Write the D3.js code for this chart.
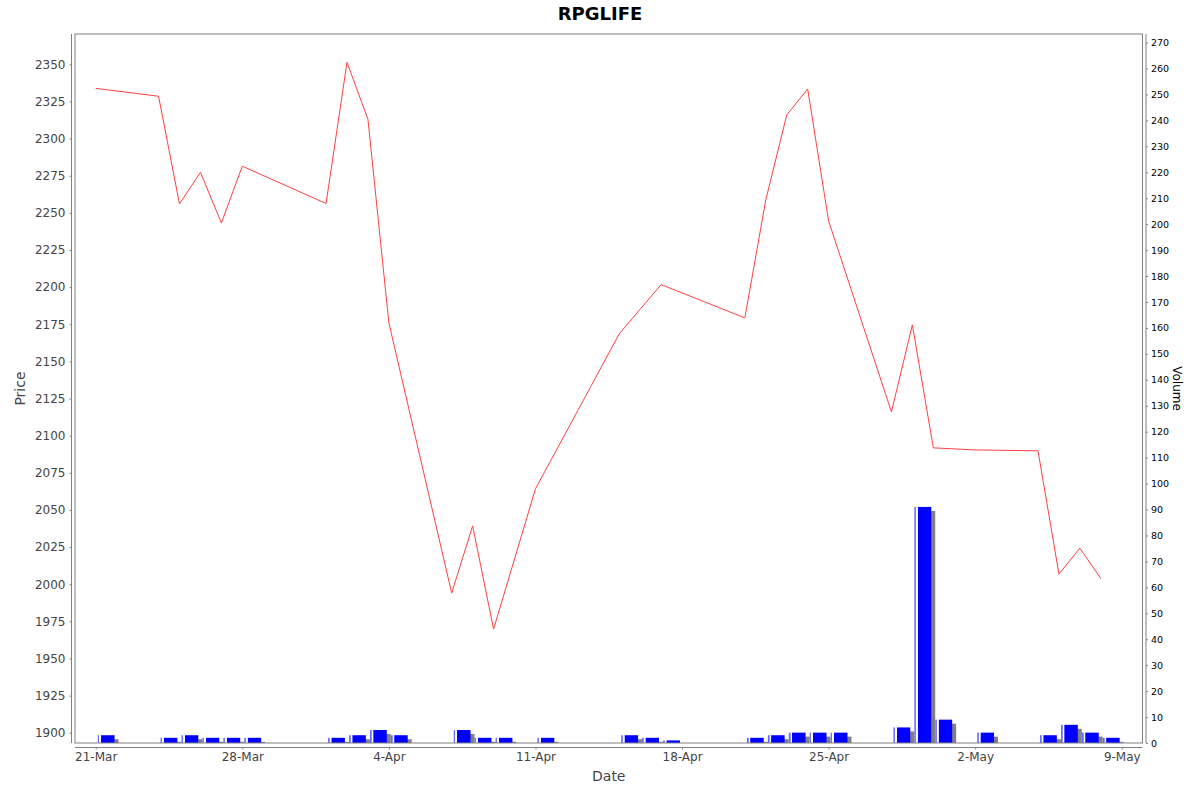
<!DOCTYPE html>
<html>
<head>
<meta charset="utf-8">
<script src="https://cdn.jsdelivr.net/npm/d3@7"></script>
<style>
  body { margin: 0; background: #fff; }
  text { font-family: "DejaVu Sans", sans-serif; }
</style>
</head>
<body>
<div id="container"></div>
<script>
const dates = ["2021-03-21","2021-03-24","2021-03-25","2021-03-26","2021-03-27","2021-03-28",
  "2021-04-01","2021-04-02","2021-04-03","2021-04-04","2021-04-07","2021-04-08","2021-04-09",
  "2021-04-11","2021-04-15","2021-04-16","2021-04-17","2021-04-21","2021-04-22","2021-04-23",
  "2021-04-24","2021-04-25","2021-04-28","2021-04-29","2021-04-30","2021-05-02","2021-05-05",
  "2021-05-06","2021-05-07","2021-05-08"];
const prices = [2333.8, 2328.5, 2256.0, 2277.3, 2243.2, 2281.4,
  2256.3, 2351.3, 2313.0, 2175.9, 1994.0, 2039.3, 1969.8,
  2064.2, 2168.5, 2185.1, 2201.7, 2179.3, 2258.7, 2315.9,
  2333.4, 2244.5, 2116.0, 2174.6, 2091.8, 2090.4, 2089.8,
  2006.8, 2024.3, 2003.8];
const volumes = [3, 2, 3, 2, 2, 2,
  2, 3, 5, 3, 5, 2, 2,
  2, 3, 2, 1, 2, 3, 4,
  4, 4, 6, 91, 9, 4, 3,
  7, 4, 2];
const dateTicks = ["2021-03-21","2021-03-28","2021-04-04","2021-04-11","2021-04-18","2021-04-25","2021-05-02","2021-05-09"];
const priceTicks = d3.range(1900, 2351, 25);
const volumeTicks = d3.range(0, 271, 10);

const width = 1200;
const height = 792;
const plotL = 75, plotR = 1142.5, plotT = 34, plotB = 743;
const DAY = 86400000;
const parse = d3.utcParse("%Y-%m-%d");

const rows = dates.map((d, i) => ({date: parse(d), price: prices[i], volume: volumes[i]}));

const svg = d3.select("#container").append("svg")
  .attr("width", width)
  .attr("height", height);
svg.append("rect").attr("width", width).attr("height", height).attr("fill", "#fff");

const x = d3.scaleUtc()
  .domain([+parse("2021-03-21") - 0.99 * DAY, +parse("2021-05-09") + 0.99 * DAY])
  .range([plotL, plotR]);
const yPrice = d3.scaleLinear().domain([1893.1, 2370.4]).range([plotB, plotT]);
const yVol = d3.scaleLinear().domain([0, 273.3]).range([plotB, plotT]);

// bar gradient, roughly like the java bar painter
const grad = svg.append("defs").append("linearGradient")
  .attr("id", "barGrad")
  .attr("x1", 0).attr("x2", 1).attr("y1", 0).attr("y2", 0);
[[0, "#4a4aff"], [0.1, "#9a9aff"], [0.1, "#ffffff"], [0.18, "#ffffff"], [0.22, "#0000ff"], [1, "#0000ff"]]
  .forEach(s => grad.append("stop").attr("offset", s[0]).attr("stop-color", s[1]));

// volume bars with shadow
const bars = svg.append("g").selectAll("g").data(rows).enter().append("g");
bars.append("rect")
  .attr("x", d => x(+d.date + 0.1 * DAY) + 4)
  .attr("y", d => Math.min(yVol(d.volume) + 4, plotB))
  .attr("width", d => x(+d.date + 0.9 * DAY) - x(+d.date + 0.1 * DAY))
  .attr("height", d => Math.max(plotB - yVol(d.volume) - 4, 0))
  .attr("fill", "#808080");
bars.append("rect")
  .attr("x", d => x(+d.date + 0.1 * DAY))
  .attr("y", d => yVol(d.volume))
  .attr("width", d => x(+d.date + 0.9 * DAY) - x(+d.date + 0.1 * DAY))
  .attr("height", d => plotB - yVol(d.volume))
  .attr("fill", "url(#barGrad)");

// price line
svg.append("path")
  .datum(rows)
  .attr("fill", "none")
  .attr("stroke", "#ff4040")
  .attr("stroke-width", 1)
  .attr("d", d3.line().x(d => x(d.date)).y(d => yPrice(d.price)));

// plot outline
svg.append("rect")
  .attr("x", plotL).attr("y", plotT)
  .attr("width", plotR - plotL).attr("height", plotB - plotT)
  .attr("fill", "none")
  .attr("stroke", "#808080");

// left axis
const leftAxis = svg.append("g").attr("transform", `translate(${plotL - 3.5},0)`)
  .call(d3.axisLeft(yPrice).tickValues(priceTicks).tickSize(2).tickPadding(4).tickFormat(d3.format("d")));
leftAxis.select(".domain").attr("d", `M0,${plotT}V${plotB}`);
// right axis
const rightAxis = svg.append("g").attr("transform", `translate(${plotR + 3.5},0)`)
  .call(d3.axisRight(yVol).tickValues(volumeTicks).tickSize(2).tickPadding(3).tickFormat(d3.format("d")));
rightAxis.select(".domain").attr("d", `M0,${plotT}V${plotB}`);
// bottom axis
const bottomAxis = svg.append("g").attr("transform", `translate(0,${plotB + 4.5})`)
  .call(d3.axisBottom(x).tickValues(dateTicks.map(parse)).tickSize(2).tickPadding(3).tickFormat(d3.utcFormat("%-d-%b")));
bottomAxis.select(".domain").attr("d", `M${plotL},0H${plotR}`);

[leftAxis, rightAxis, bottomAxis].forEach(a => {
  a.select(".domain").attr("stroke", "#808080");
  a.selectAll(".tick line").attr("stroke", "#808080");
  a.selectAll("text").attr("font-family", "DejaVu Sans");
});
leftAxis.selectAll("text").attr("font-size", 12).attr("fill", "#444");
bottomAxis.selectAll("text").attr("font-size", 12).attr("fill", "#444");
rightAxis.selectAll("text").attr("font-size", 9.5).attr("fill", "#000");

// titles
svg.append("text")
  .text("RPGLIFE")
  .attr("x", width / 2).attr("y", 20)
  .attr("text-anchor", "middle")
  .attr("font-size", 18)
  .attr("font-weight", "bold");
svg.append("text")
  .text("Date")
  .attr("x", (plotL + plotR) / 2).attr("y", 781)
  .attr("text-anchor", "middle")
  .attr("font-size", 14)
  .attr("fill", "#444");
svg.append("text")
  .text("Price")
  .attr("transform", `translate(25,${(plotT + plotB) / 2}) rotate(-90)`)
  .attr("text-anchor", "middle")
  .attr("font-size", 14)
  .attr("fill", "#444");
svg.append("text")
  .text("Volume")
  .attr("transform", `translate(1173,${(plotT + plotB) / 2}) rotate(90)`)
  .attr("text-anchor", "middle")
  .attr("font-size", 12)
  .attr("fill", "#000");
</script>
</body>
</html>
